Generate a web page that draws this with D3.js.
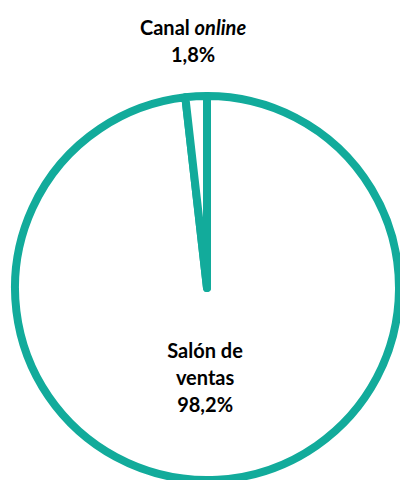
<!DOCTYPE html>
<html>
<head>
<meta charset="utf-8">
<script src="https://cdn.jsdelivr.net/npm/d3@7"></script>
<style>
  body { margin: 0; background: #fff; }
  .lbl { font-family: Lato, "Open Sans", sans-serif; font-weight: bold; font-size: 20px; fill: #000; }
</style>
</head>
<body>
<div class="chart"></div>
<script>
var svgWidth = 400;
var svgHeight = 480;

// data
var categories = ["Salón de ventas", "Canal online"];
var shares = [98.2, 1.8];
var labelLines = [["Salón de", "ventas", "98,2%"], [["Canal ", "online"], "1,8%"]];

var cx = 207, cy = 288;
var radius = 192;
var teal = "#12AB9B";

var svg = d3.select(".chart")
  .append("svg")
  .attr("width", svgWidth)
  .attr("height", svgHeight);

var g = svg.append("g")
  .attr("transform", "translate(" + cx + "," + cy + ")");

var pie = d3.pie().sort(null).value(function(d) { return d; });
var arcs = pie(shares);

var arc = d3.arc().innerRadius(0).outerRadius(radius);

g.selectAll("path")
  .data(arcs)
  .enter()
  .append("path")
  .attr("d", arc)
  .attr("fill", "#fff")
  .attr("stroke", teal)
  .attr("stroke-width", 8)
  .attr("stroke-linejoin", "round");

// label positions: inside for the big slice, outside for the thin one
var labelRadius = [90, 247];
var labelShift = [-7, 0];
var lineHeight = 27;

arcs.forEach(function(a, i) {
  var la = d3.arc().innerRadius(labelRadius[i]).outerRadius(labelRadius[i]);
  var c = la.centroid(a);
  var x = c[0] + labelShift[i];
  var lines = labelLines[i];
  var t = g.append("text")
    .attr("class", "lbl")
    .attr("text-anchor", "middle")
    .attr("x", x)
    .attr("y", c[1] - (lines.length - 1) * lineHeight / 2);
  lines.forEach(function(line, j) {
    var ts = t.append("tspan")
      .attr("x", x)
      .attr("dy", j === 0 ? "0.35em" : lineHeight);
    if (Array.isArray(line)) {
      ts.append("tspan").text(line[0]);
      ts.append("tspan").attr("font-style", "italic").text(line[1]);
    } else {
      ts.text(line);
    }
  });
});
</script>
</body>
</html>
